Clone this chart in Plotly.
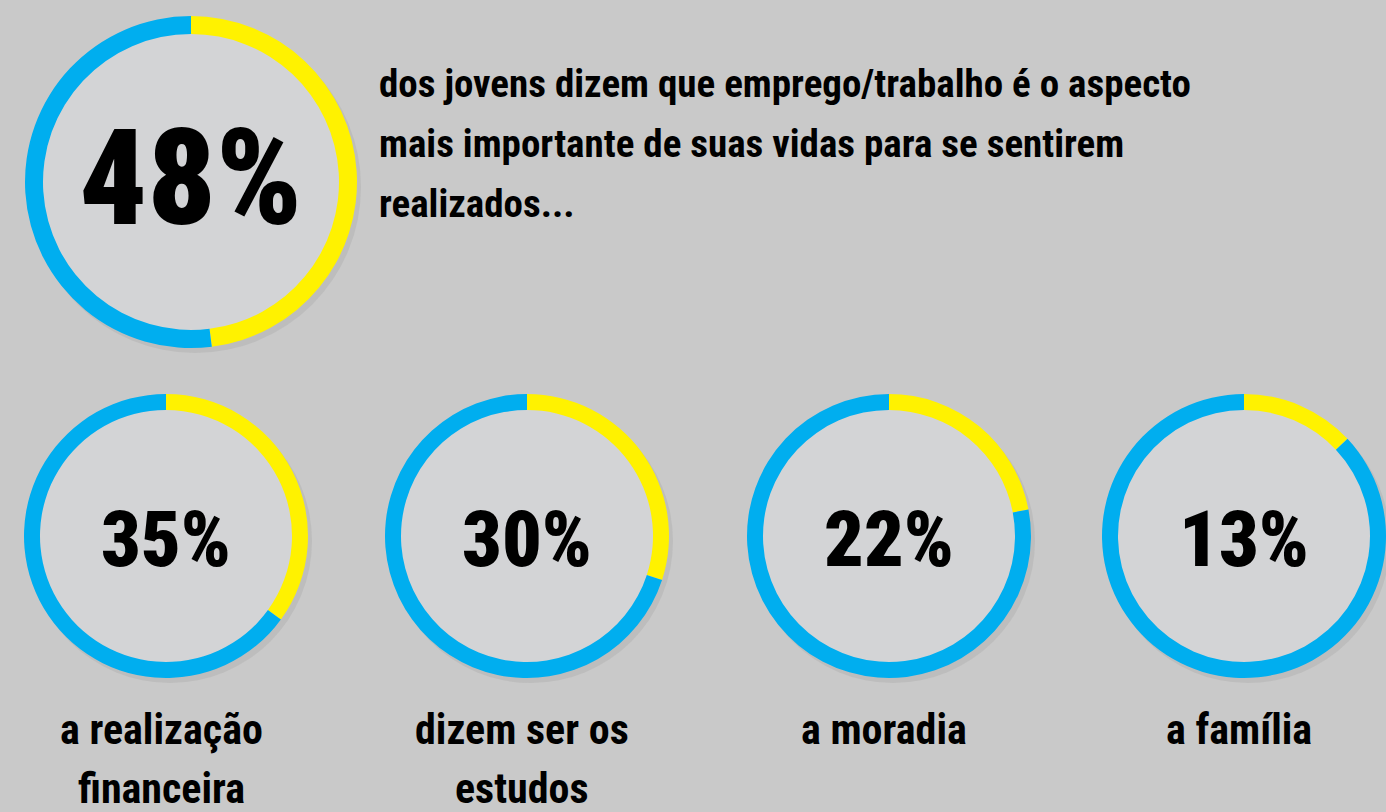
import plotly.graph_objects as go

# ---- data ----
headline_value = 48
headline_lines = [
    "dos jovens dizem que emprego/trabalho é o aspecto",
    "mais importante de suas vidas para se sentirem",
    "realizados...",
]
aspect_values = [35, 30, 22, 13]
aspect_labels = [
    ["a realização", "financeira"],
    ["dizem ser os", "estudos"],
    ["a moradia"],
    ["a família"],
]

YELLOW = "#fff200"
BLUE = "#00aeef"
FILL = "#d3d4d6"
BG = "#c9c9c9"
FONT = ("Noto Sans ExtraCondensed, Noto Sans Condensed, Roboto Condensed, "
        "Liberation Sans Narrow, Arial Narrow, Roboto, sans-serif")

W, H = 1386, 812


def fx(x):
    return x / W


def fy(y):
    return 1 - y / H


fig = go.Figure()
shapes = []
annotations = []


def ring(value, cx, cy, r, thick, name):
    fig.add_trace(go.Pie(
        values=[value, 100 - value],
        labels=[name + " sim", name + " resto"],
        marker=dict(colors=[YELLOW, BLUE], line=dict(width=0)),
        hole=(r - thick) / r,
        sort=False,
        direction="clockwise",
        rotation=0,
        textinfo="none",
        hoverinfo="skip",
        showlegend=False,
        domain=dict(x=[fx(cx - r), fx(cx + r)], y=[fy(cy + r), fy(cy - r)]),
    ))
    # soft shadow
    shapes.append(dict(type="circle", xref="paper", yref="paper", layer="below",
                       x0=fx(cx - r + 4), x1=fx(cx + r + 4), y0=fy(cy + r + 5), y1=fy(cy - r + 5),
                       fillcolor="rgba(110,110,110,0.12)", line=dict(width=0)))
    shapes.append(dict(type="circle", xref="paper", yref="paper", layer="below",
                       x0=fx(cx - r + 2), x1=fx(cx + r - 2), y0=fy(cy + r - 2), y1=fy(cy - r + 2),
                       fillcolor=FILL, line=dict(width=0)))


# headline ring
ring(headline_value, 191, 182, 166, 18, "principal")
annotations.append(dict(x=fx(191), y=fy(178), xref="paper", yref="paper",
                        text="%d%%" % headline_value, showarrow=False,
                        xanchor="center", yanchor="middle",
                        font=dict(family=FONT, size=134, color="#000000", weight=900)))
for i, line in enumerate(headline_lines):
    annotations.append(dict(x=fx(377), y=fy(84 + 60 * i), xref="paper", yref="paper",
                            text=line, showarrow=False,
                            xanchor="left", yanchor="middle",
                            font=dict(family=FONT, size=39, color="#000000", weight=700)))

centers = [166, 527, 889, 1244]
for v, lab, cx in zip(aspect_values, aspect_labels, centers):
    ring(v, cx, 536, 142, 16, lab[0])
    annotations.append(dict(x=fx(cx), y=fy(539), xref="paper", yref="paper",
                            text="%d%%" % v, showarrow=False,
                            xanchor="center", yanchor="middle",
                            font=dict(family=FONT, size=78, color="#000000", weight=900)))
    for j, line in enumerate(lab):
        annotations.append(dict(x=fx(cx - 5), y=fy(729 + 59 * j), xref="paper", yref="paper",
                                text=line, showarrow=False,
                                xanchor="center", yanchor="middle",
                                font=dict(family=FONT, size=42, color="#000000", weight=700)))

fig.update_layout(
    width=W, height=H,
    margin=dict(l=0, r=0, t=0, b=0),
    paper_bgcolor=BG, plot_bgcolor=BG,
    shapes=shapes, annotations=annotations,
    showlegend=False,
)

fig.write_html("out.html", config={"displayModeBar": False},
               post_script="document.body.style.margin='0';document.body.style.overflow='hidden';")
